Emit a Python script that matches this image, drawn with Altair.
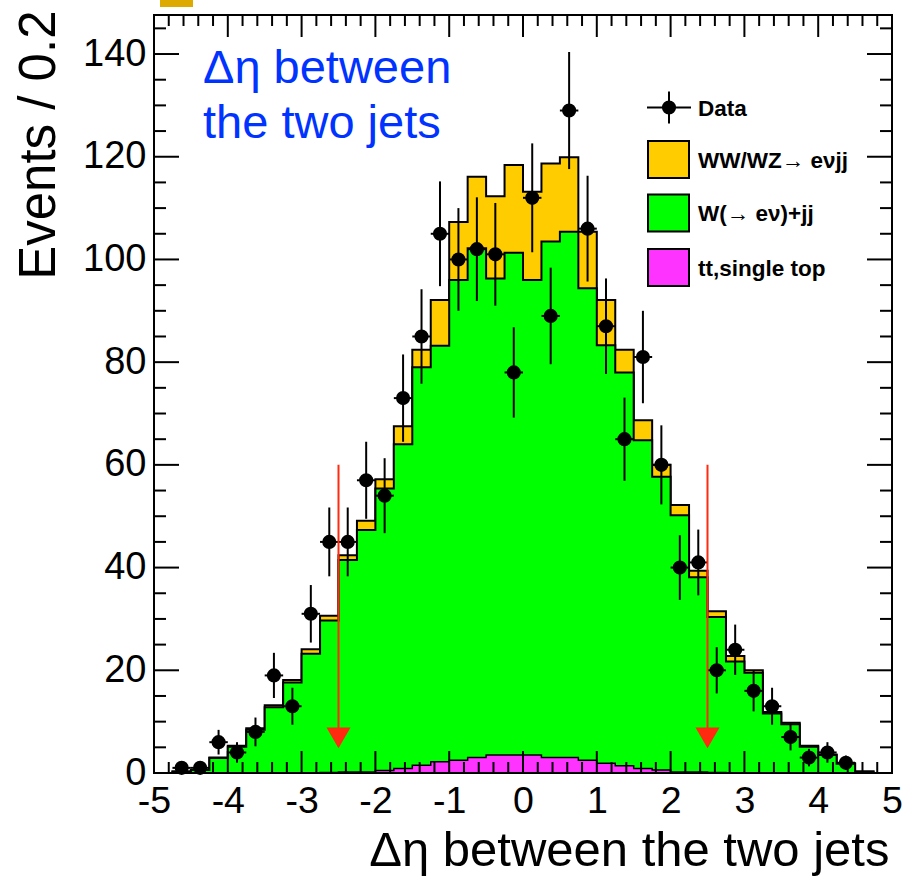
import altair as alt
import pandas as pd

# ---- binning: 40 bins of width 0.25 on [-5, 5] ----
BIN_W = 0.25
bin_lo = [round(-5 + BIN_W * i, 2) for i in range(40)]

# ---- stacked MC components (events per bin) ----
top_quark = [0, 0, 0, 0, 0, 0, 0, 0, 0, 0.1,
             0.2, 0.2, 0.5, 0.9, 1.5, 2.2, 2.5, 3.0, 3.5, 3.5,
             3.5, 3.0, 3.0, 2.5, 1.9, 1.4, 0.9, 0.6, 0.2, 0.2,
             0.1, 0, 0, 0, 0, 0, 0, 0, 0, 0]
w_jets = [0, 0.3, 0.6, 2.9, 5.1, 8.4, 12.8, 17.6, 23.2, 29.6,
          41.3, 47.1, 54.9, 63.1, 77.5, 81.0, 93.5, 99.2, 92.8, 97.8,
          92.5, 100.5, 102.4, 91.9, 81.4, 76.6, 63.9, 57.1, 50.0, 37.9,
          30.3, 21.7, 19.5, 11.6, 9.5, 5.1, 3.5, 1.8, 0.3, 0]
diboson = [0, 0, 0, 0.1, 0.2, 0.3, 0.4, 0.5, 0.9, 0.9,
           0.9, 1.8, 1.8, 3.5, 3.4, 8.9, 11.3, 13.9, 16.0, 17.1,
           17.2, 15.2, 14.5, 11.0, 8.8, 4.4, 3.9, 2.3, 2.0, 1.3,
           1.1, 1.1, 0.5, 0.3, 0.3, 0.2, 0.1, 0.1, 0, 0]

# ---- observed data (0 = no entry drawn) and Poisson errors ----
data_counts = [0, 1, 1, 6, 4, 8, 19, 13, 31, 45,
               45, 57, 54, 73, 85, 105, 100, 102, 101, 78,
               112, 89, 129, 106, 87, 65, 81, 60, 40, 41,
               20, 24, 16, 13, 7, 3, 4, 2, 0, 0]
data_errors = [0, 1.0, 1.0, 2.4, 2.0, 2.8, 4.4, 3.6, 5.6, 6.7,
               6.7, 7.5, 7.3, 8.5, 9.2, 10.2, 10.0, 10.1, 10.0, 8.8,
               10.6, 9.4, 11.4, 10.3, 9.3, 8.1, 9.0, 7.7, 6.3, 6.4,
               4.5, 4.9, 4.0, 3.6, 2.6, 1.7, 2.0, 1.4, 0, 0]

# ---- axes, cuts, labels ----
x_major = [-5, -4, -3, -2, -1, 0, 1, 2, 3, 4, 5]
y_major = [0, 20, 40, 60, 80, 100, 120, 140]
x_minor = [round(-5 + 0.2 * i, 1) for i in range(51) if i % 5]
y_minor = [v for v in range(0, 150, 5) if v % 20]
cut_values = [-2.5, 2.5]
arrow_from, arrow_tip = 60.0, 4.8
legend_labels = ["Data", "WW/WZ\u2192 e\u03bdjj", "W(\u2192 e\u03bd)+jj", "tt,single top"]
legend_colors = ["#ffcc00", "#00ff00", "#ff33ff"]
panel_lines = ["\u0394\u03b7 between", "the two jets"]

W, H = 738, 758
Y_MAX = 147.6
FONT = "Liberation Sans"

hist = pd.DataFrame({"lo": bin_lo, "top": top_quark, "wj": w_jets, "vv": diboson})
hist["wtop"] = hist["top"] + hist["wj"]
hist["total"] = hist["wtop"] + hist["vv"]
closing = hist.iloc[[-1]].copy()
closing["lo"] = 5.0
steps = pd.concat([hist, closing], ignore_index=True)

pts = pd.DataFrame({"lo": bin_lo, "n": data_counts, "err": data_errors})
pts = pts[pts["n"] > 0].copy()
pts["c"] = pts["lo"] + BIN_W / 2
pts["hi"] = pts["lo"] + BIN_W
pts["ylo"] = pts["n"] - pts["err"]
pts["yhi"] = pts["n"] + pts["err"]

xs = alt.Scale(domain=[-5, 5], nice=False, zero=False)
ys = alt.Scale(domain=[0, Y_MAX], nice=False)

x_axis = alt.Axis(values=x_major, grid=False, domain=False, ticks=False, tickSize=0,
                  labelFontSize=37.5, labelPadding=9, labelFlush=False, labelOverlap=False,
                  labelExpr="'' + datum.value", labelColor="black", labelFont=FONT,
                  title="\u0394\u03b7 between the two jets", titleFont=FONT, titleFontSize=49,
                  titleFontWeight="normal", titleColor="black", titleAlign="right",
                  titleBaseline="alphabetic", titleX=735, titleY=92)
y_axis = alt.Axis(values=y_major, grid=False, domain=False, ticks=False, tickSize=0,
                  labelFontSize=38, labelPadding=8, labelColor="black", labelFont=FONT,
                  labelFlush=False, labelOverlap=False,
                  title="Events / 0.2", titleFont=FONT, titleFontSize=51,
                  titleFontWeight="normal", titleColor="black", titleAngle=270,
                  titleAlign="right", titleBaseline="alphabetic", titleX=-100, titleY=-5)


def X(field, **kw):
    return alt.X(f"{field}:Q", scale=xs, axis=x_axis, **kw)


def Y(field, **kw):
    return alt.Y(f"{field}:Q", scale=ys, axis=y_axis, **kw)


def step_fill(field, color):
    return alt.Chart(steps).mark_area(interpolate="step-after", color=color, opacity=1).encode(
        x=X("lo"), y=Y(field))


def step_line(field, width=2):
    return alt.Chart(steps).mark_line(interpolate="step-after", color="black",
                                      strokeWidth=width).encode(x=X("lo"), y=Y(field))


layers = [
    step_fill("total", legend_colors[0]), step_line("total"),
    step_fill("wtop", legend_colors[1]), step_line("wtop"),
    step_fill("top", legend_colors[2]), step_line("top", 1.5),
]


# tick marks drawn inside the frame on all four sides
def xticks(vals, length):
    base = alt.Chart(pd.DataFrame({"v": vals})).mark_rule(color="black", strokeWidth=2)
    return [
        base.encode(x=X("v"), y=alt.value(H), y2=alt.value(H - length)),
        base.encode(x=X("v"), y=alt.value(0), y2=alt.value(length)),
    ]


def yticks(vals, length):
    base = alt.Chart(pd.DataFrame({"v": vals})).mark_rule(color="black", strokeWidth=2)
    return [
        base.encode(y=Y("v"), x=alt.value(0), x2=alt.value(length)),
        base.encode(y=Y("v"), x=alt.value(W), x2=alt.value(W - length)),
    ]


layers += xticks(x_major, 22) + xticks(x_minor, 11) + yticks(y_major, 25) + yticks(y_minor, 12)

# data points with error bars
pbase = alt.Chart(pts)
layers += [
    pbase.mark_rule(color="black", strokeWidth=2).encode(x=X("c"), y=Y("ylo"), y2="yhi:Q"),
    pbase.mark_rule(color="black", strokeWidth=2).encode(x=X("lo"), x2="hi:Q", y=Y("n")),
    pbase.mark_circle(color="black", opacity=1, size=200).encode(x=X("c"), y=Y("n")),
]

# cut arrows
px_per_unit = H / Y_MAX
head_half = (3 ** 0.5) * 12 / 2
cuts = pd.DataFrame({"x": cut_values, "y0": arrow_from,
                     "yh": arrow_tip + head_half / px_per_unit})
layers += [
    alt.Chart(cuts).mark_rule(color="#ff2a10", strokeWidth=2).encode(
        x=X("x"), y=Y("y0"), y2="yh:Q"),
    alt.Chart(cuts).mark_point(shape="triangle-down", filled=True, size=576, color="#ff2a10",
                               opacity=1).encode(x=X("x"), y=Y("yh")),
]

one = alt.Data(values=[{"k": 0}])

# legend
LX0, LX1, LTX = 494, 535, 544
row_y = [92.5, 144.5, 198, 252.5]
layers += [
    alt.Chart(one).mark_rule(color="black", strokeWidth=2).encode(
        x=alt.value(LX0 - 1), x2=alt.value(LX1 + 2), y=alt.value(row_y[0])),
    alt.Chart(one).mark_rule(color="black", strokeWidth=2).encode(
        x=alt.value(515), y=alt.value(row_y[0] - 16), y2=alt.value(row_y[0] + 16)),
    alt.Chart(one).mark_circle(color="black", opacity=1, size=200).encode(
        x=alt.value(515), y=alt.value(row_y[0])),
]
for i, lab in enumerate(legend_labels):
    if i > 0:
        layers.append(alt.Chart(one).mark_rect(color=legend_colors[i - 1], stroke="black",
                                               strokeWidth=2, opacity=1).encode(
            x=alt.value(LX0), x2=alt.value(LX1),
            y=alt.value(row_y[i] - 18.5), y2=alt.value(row_y[i] + 18.5)))
    layers.append(alt.Chart(one).mark_text(text=lab, align="left", baseline="middle", font=FONT,
                                           fontSize=22.5, fontWeight="bold", color="black").encode(
        x=alt.value(LTX), y=alt.value(row_y[i] + 1)))

# panel caption
for j, line in enumerate(panel_lines):
    layers.append(alt.Chart(one).mark_text(text=line, align="left", baseline="alphabetic",
                                           font=FONT, fontSize=47, color="#0033ff").encode(
        x=alt.value(49), y=alt.value(68 + 55 * j)))

# gold tab at the top edge
layers.append(alt.Chart(one).mark_rect(color="#dcaa00", opacity=1).encode(
    x=alt.value(6), x2=alt.value(39), y=alt.value(-15), y2=alt.value(-8)))

# frame on top of everything
layers.append(alt.Chart(one).mark_rect(fill=None, stroke="black", strokeWidth=2).encode(
    x=alt.value(0), x2=alt.value(W), y=alt.value(0), y2=alt.value(H)))

chart = alt.layer(*layers).properties(
    width=W, height=H,
    autosize=alt.AutoSizeParams(type="none"),
    padding={"left": 154, "top": 15, "right": 15, "bottom": 104},
).configure_view(stroke=None).configure(background="white")

chart.save("out.html", embed_options={"renderer": "svg", "actions": False})
